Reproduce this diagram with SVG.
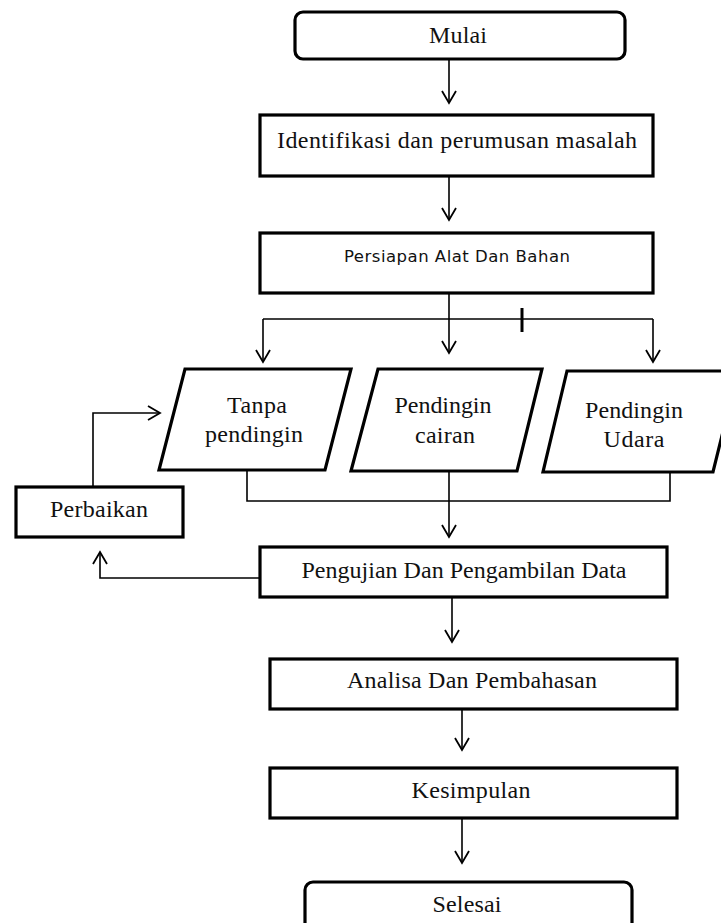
<svg xmlns="http://www.w3.org/2000/svg" width="721" height="923" viewBox="0 0 721 923">
<style>
.box{fill:#fff;stroke:#000;stroke-width:3.2}
.ln{fill:none;stroke:#000;stroke-width:1.6}
.t{font-family:"Liberation Serif","Times New Roman",serif;font-size:24px;fill:#111;text-anchor:middle}
.s{font-family:"DejaVu Sans",Verdana,sans-serif;font-size:16.5px;fill:#111;text-anchor:middle}
</style>
<defs>
<marker id="arr" markerUnits="userSpaceOnUse" viewBox="-15 -15 30 30" markerWidth="30" markerHeight="30" refX="0" refY="0" orient="auto" overflow="visible">
<path d="M-12,-7 L0,0 L-12,7" fill="none" stroke="#000" stroke-width="1.8"/>
</marker>
</defs>
<rect width="721" height="923" fill="#fff"/>
<g id="connectors">
<path class="ln" d="M449,59 V103" marker-end="url(#arr)"/>
<path class="ln" d="M449,176 V220" marker-end="url(#arr)"/>
<path class="ln" d="M449,293 V353" marker-end="url(#arr)"/>
<path class="ln" d="M263,319 H653"/>
<path class="ln" d="M263,319 V362" marker-end="url(#arr)"/>
<path class="ln" d="M653,319 V362" marker-end="url(#arr)"/>
<path d="M522,308 V332" stroke="#000" stroke-width="3" fill="none"/>
<path class="ln" d="M247,470 V501 H670 V472"/>
<path class="ln" d="M449,471 V537" marker-end="url(#arr)"/>
<path class="ln" d="M260,578 H100 V552" marker-end="url(#arr)"/>
<path class="ln" d="M93,487 V413 H160" marker-end="url(#arr)"/>
<path class="ln" d="M452,597 V642" marker-end="url(#arr)"/>
<path class="ln" d="M462,709 V750" marker-end="url(#arr)"/>
<path class="ln" d="M462,818 V863" marker-end="url(#arr)"/>
</g>
<g id="mulai">
<rect class="box" x="295" y="12" width="330" height="47" rx="8"/>
<text class="t" x="458" y="43" textLength="58" lengthAdjust="spacing">Mulai</text>
</g>
<g id="identifikasi">
<rect class="box" x="260" y="115" width="393" height="61"/>
<text class="t" x="457" y="148" textLength="360" lengthAdjust="spacing">Identifikasi dan perumusan masalah</text>
</g>
<g id="persiapan">
<rect class="box" x="260" y="233" width="393" height="60"/>
<text class="s" x="457" y="262" textLength="226" lengthAdjust="spacing">Persiapan Alat Dan Bahan</text>
</g>
<g id="tanpa">
<polygon class="box" points="185,369 351,369 325,470 159,470"/>
<text class="t" x="257" y="413" textLength="60" lengthAdjust="spacing">Tanpa</text>
<text class="t" x="254" y="442" textLength="98" lengthAdjust="spacing">pendingin</text>
</g>
<g id="cairan">
<polygon class="box" points="378,369 542,369 517,471 351,471"/>
<text class="t" x="443" y="413" textLength="97" lengthAdjust="spacing">Pendingin</text>
<text class="t" x="445" y="443" textLength="60" lengthAdjust="spacing">cairan</text>
</g>
<g id="udara">
<polygon class="box" points="567,371 738,371 713,472 543,472"/>
<text class="t" x="634" y="418" textLength="98" lengthAdjust="spacing">Pendingin</text>
<text class="t" x="634" y="447" textLength="61" lengthAdjust="spacing">Udara</text>
</g>
<g id="perbaikan">
<rect class="box" x="16" y="487" width="167" height="50"/>
<text class="t" x="99" y="517" textLength="98" lengthAdjust="spacing">Perbaikan</text>
</g>
<g id="pengujian">
<rect class="box" x="260" y="547" width="407" height="50"/>
<text class="t" x="464" y="578" textLength="325" lengthAdjust="spacing">Pengujian Dan Pengambilan Data</text>
</g>
<g id="analisa">
<rect class="box" x="270" y="659" width="407" height="50"/>
<text class="t" x="472" y="688" textLength="250" lengthAdjust="spacing">Analisa Dan Pembahasan</text>
</g>
<g id="kesimpulan">
<rect class="box" x="270" y="768" width="407" height="50"/>
<text class="t" x="471" y="798" textLength="119" lengthAdjust="spacing">Kesimpulan</text>
</g>
<g id="selesai">
<rect class="box" x="305" y="882" width="327" height="60" rx="8"/>
<text class="t" x="467" y="912" textLength="69" lengthAdjust="spacing">Selesai</text>
</g>
</svg>
